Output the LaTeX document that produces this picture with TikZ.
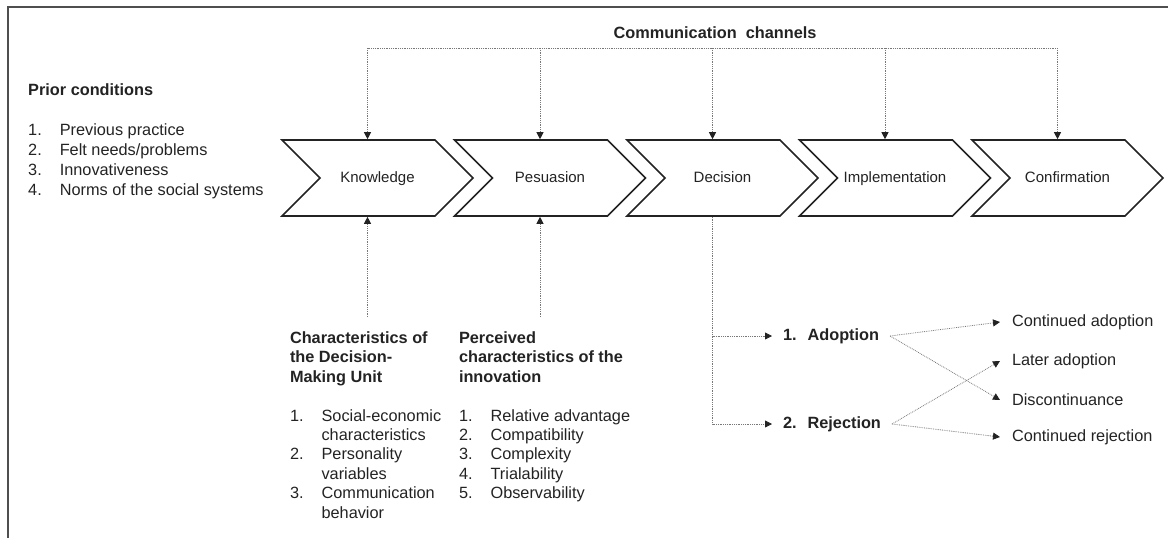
\documentclass[tikz,border=0pt]{standalone}
\usepackage{fontspec}
\setmainfont{Liberation Sans}
\usetikzlibrary{arrows.meta,positioning,shapes.symbols,calc}
\definecolor{ink}{RGB}{35,35,35}
\definecolor{wire}{RGB}{120,120,120}
\newcommand{\bodyfont}{\fontsize{16.3}{20}\selectfont}
\newcommand{\listfont}{\fontsize{16.3}{19.4}\selectfont}
\newcommand{\stagefont}{\fontsize{15}{18}\selectfont}
\tikzset{
  >={Triangle[length=7pt,width=7pt,color=ink]},
  stage/.style={signal,signal from=west,signal to=east,signal pointer angle=90,
    draw=ink,fill=white,line width=1.6pt,minimum width=191pt,minimum height=76pt,
    font=\stagefont,text=ink,text height=11pt,text depth=3pt},
  link/.style={draw=wire,line width=0.8pt,densely dotted},
  txt/.style={inner sep=0pt,align=left,font=\bodyfont,text=ink},
  block/.style={txt,font=\listfont,anchor=north west,outer ysep=13pt,outer xsep=0pt},
  branch/.style={txt,font=\bodyfont\bfseries,anchor=west,outer xsep=11pt},
  outcome/.style={txt,anchor=west,outer xsep=12pt},
}

\begin{document}
\begin{tikzpicture}[x=1pt,y=-1pt]
  \useasboundingbox (0,0) rectangle (1168,538);
  % frame
  \draw[ink!80,line width=2pt] (1168,7) -- (8,7) -- (8,538);

  % stages
  \foreach \n/\t [count=\i from 0] in {know/Knowledge,pers/Pesuasion,deci/Decision,impl/Implementation,conf/Confirmation}{
    \node[stage] (\n) at (377.5+172.5*\i,178) {\t};
    \coordinate (\n-top) at ([xshift=-10pt]\n.north);
    \coordinate (\n-bot) at ([xshift=-10pt]\n.south);
  }

  % communication channels
  \node[txt,font=\bodyfont\bfseries] (chan) at (715,33) {Communication\ \ channels};
  \coordinate (bus) at (0,48);
  \draw[link] (know-top |- bus) -- (conf-top |- bus);
  \foreach \n in {know,pers,deci,impl,conf}
    \draw[link,->] (\n-top |- bus) -- (\n-top);

  % prior conditions
  \node[txt,anchor=north west] (prior) at (28,81) {%
    \begin{tabular}{@{}l@{\hspace{18pt}}l@{}}
      \multicolumn{2}{@{}l@{}}{\bfseries Prior conditions}\\
      \\
      1. & Previous practice\\
      2. & Felt needs/problems\\
      3. & Innovativeness\\
      4. & Norms of the social systems
    \end{tabular}};

  % characteristics
  \node[block] (dmu) at (290,317) {%
    \begin{tabular}{@{}l@{\hspace{18pt}}l@{}}
      \multicolumn{2}{@{}l@{}}{\bfseries Characteristics of}\\
      \multicolumn{2}{@{}l@{}}{\bfseries the Decision-}\\
      \multicolumn{2}{@{}l@{}}{\bfseries Making Unit}\\
      \\
      1. & Social-economic\\
         & characteristics\\
      2. & Personality\\
         & variables\\
      3. & Communication\\
         & behavior
    \end{tabular}};
  \node[block] (innov) at (459,317) {%
    \begin{tabular}{@{}l@{\hspace{18pt}}l@{}}
      \multicolumn{2}{@{}l@{}}{\bfseries Perceived}\\
      \multicolumn{2}{@{}l@{}}{\bfseries characteristics of the}\\
      \multicolumn{2}{@{}l@{}}{\bfseries innovation}\\
      \\
      1. & Relative advantage\\
      2. & Compatibility\\
      3. & Complexity\\
      4. & Trialability\\
      5. & Observability
    \end{tabular}};
  \draw[link,->] (know-bot |- dmu.north) -- (know-bot);
  \draw[link,->] (pers-bot |- innov.north) -- (pers-bot);

  % decision outcomes
  \node[branch] (adopt) at (772,336) {1.\hspace{11pt}Adoption};
  \node[branch] (reject) at (772,424) {2.\hspace{11pt}Rejection};
  \draw[link,->] (deci-bot) |- (adopt.west);
  \draw[link,->] (deci-bot) |- (reject.west);

  \node[outcome] (contad) at (1000,322) {Continued adoption};
  \node[outcome] (later) at (1000,361) {Later adoption};
  \node[outcome] (discon) at (1000,400) {Discontinuance};
  \node[outcome] (contrej) at (1000,437) {Continued rejection};
  \draw[link,->] (adopt.east) -- (contad.west);
  \draw[link,->] (adopt.east) -- (discon.west);
  \draw[link,->] (reject.east) -- (later.west);
  \draw[link,->] (reject.east) -- (contrej.west);
\end{tikzpicture}
\end{document}
